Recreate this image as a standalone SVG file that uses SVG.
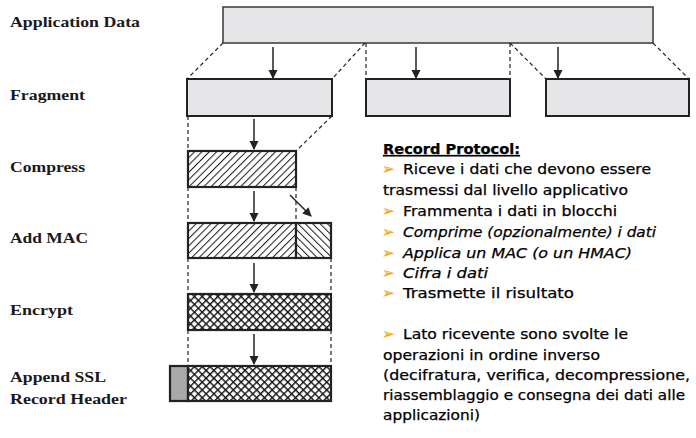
<svg xmlns="http://www.w3.org/2000/svg" width="696" height="438" viewBox="0 0 696 438">
<style>
.lbl{font-family:"Liberation Serif","Times New Roman",serif;font-weight:bold;font-size:15.5px;fill:#1a1a1a}
.txt{font-family:"DejaVu Sans","Noto Sans",sans-serif;font-size:14px;fill:#000;stroke:#000;stroke-width:0.25}
.it{font-style:italic}
.bul{fill:#F2A50C;stroke:#F2A50C;font-size:15px}
.gray{fill:#E6E6E8;stroke:#222;stroke-width:2}
.app{fill:#E6E6E8;stroke:#444;stroke-width:1.6}
.dash{stroke:#222;stroke-width:1.2;stroke-dasharray:4 3;fill:none}
.arr{stroke:#222;stroke-width:1.5;fill:none;marker-end:url(#ah)}
.box{stroke:#222;stroke-width:2.2}
</style>
<defs>
<marker id="ah" markerWidth="9" markerHeight="10" refX="8" refY="4.5" orient="auto" markerUnits="userSpaceOnUse">
<path d="M0,0 L9,4.5 L0,9 z" fill="#222"/>
</marker>
<pattern id="fwd" width="5.2" height="5.2" patternUnits="userSpaceOnUse" patternTransform="rotate(45)">
<rect width="5.2" height="5.2" fill="#fff"/>
<line x1="0" y1="0" x2="0" y2="5.2" stroke="#1a1a1a" stroke-width="2"/>
</pattern>
<pattern id="bwd" width="5.2" height="5.2" patternUnits="userSpaceOnUse" patternTransform="rotate(-45)">
<rect width="5.2" height="5.2" fill="#fff"/>
<line x1="0" y1="0" x2="0" y2="5.2" stroke="#1a1a1a" stroke-width="2"/>
</pattern>
<pattern id="cross" width="5.5" height="5.5" patternUnits="userSpaceOnUse" patternTransform="rotate(45)">
<rect width="5.5" height="5.5" fill="#fff"/>
<line x1="0" y1="0" x2="0" y2="5.5" stroke="#111" stroke-width="2.8"/>
<line x1="0" y1="0" x2="5.5" y2="0" stroke="#111" stroke-width="2.8"/>
</pattern>
</defs>
<rect width="696" height="438" fill="#fff"/>

<g id="labels">
<text class="lbl" x="10" y="27" textLength="130" lengthAdjust="spacingAndGlyphs">Application Data</text>
<text class="lbl" x="10" y="100" textLength="75" lengthAdjust="spacingAndGlyphs">Fragment</text>
<text class="lbl" x="10" y="172" textLength="75" lengthAdjust="spacingAndGlyphs">Compress</text>
<text class="lbl" x="10" y="243" textLength="78" lengthAdjust="spacingAndGlyphs">Add MAC</text>
<text class="lbl" x="10" y="315" textLength="63" lengthAdjust="spacingAndGlyphs">Encrypt</text>
<text class="lbl" x="10" y="382" textLength="96" lengthAdjust="spacingAndGlyphs">Append SSL</text>
<text class="lbl" x="10" y="404" textLength="117" lengthAdjust="spacingAndGlyphs">Record Header</text>
</g>

<g id="app-data"><rect class="app" x="223" y="7" width="430" height="36"/></g>
<g id="fragment-1"><rect class="gray" x="187" y="79" width="145" height="37"/></g>
<g id="fragment-2"><rect class="gray" x="366" y="79" width="144" height="37"/></g>
<g id="fragment-3"><rect class="gray" x="546" y="79" width="143" height="37"/></g>
<g id="compress"><rect class="box" x="188" y="151" width="108" height="36" fill="url(#fwd)"/></g>
<g id="add-mac">
<rect class="box" x="188" y="223" width="108" height="35" fill="url(#fwd)"/>
<rect class="box" x="296" y="223" width="35" height="35" fill="url(#bwd)"/>
</g>
<g id="encrypt"><rect class="box" x="188" y="294" width="143" height="36" fill="url(#cross)"/></g>
<g id="append-header">
<rect class="box" x="170" y="366" width="18" height="35" fill="#A8A8AA"/>
<rect class="box" x="188" y="366" width="143" height="35" fill="url(#cross)"/>
</g>

<g id="connectors">
<line class="dash" x1="223" y1="43" x2="187" y2="79"/>
<line class="dash" x1="365" y1="43" x2="332" y2="79"/>
<line class="dash" x1="366" y1="43" x2="366" y2="79"/>
<line class="dash" x1="510" y1="43" x2="510" y2="79"/>
<line class="dash" x1="510" y1="43" x2="546" y2="79"/>
<line class="dash" x1="653" y1="43" x2="689" y2="79"/>
<line class="dash" x1="188" y1="116" x2="188" y2="151"/>
<line class="dash" x1="332" y1="116" x2="296" y2="151"/>
<line class="dash" x1="188" y1="187" x2="188" y2="223"/>
<line class="dash" x1="296" y1="187" x2="296" y2="223"/>
<line class="dash" x1="188" y1="258" x2="188" y2="294"/>
<line class="dash" x1="331" y1="258" x2="331" y2="294"/>
<line class="dash" x1="188" y1="330" x2="188" y2="366"/>
<line class="dash" x1="331" y1="330" x2="331" y2="366"/>
<line class="arr" x1="273" y1="47" x2="273" y2="78"/>
<line class="arr" x1="416" y1="47" x2="416" y2="78"/>
<line class="arr" x1="558" y1="47" x2="558" y2="78"/>
<line class="arr" x1="254" y1="119" x2="254" y2="149"/>
<line class="arr" x1="254" y1="191" x2="254" y2="221"/>
<line class="arr" x1="254" y1="263" x2="254" y2="292"/>
<line class="arr" x1="254" y1="334" x2="254" y2="364"/>
<line class="arr" x1="290" y1="195" x2="311" y2="216"/>
</g>

<g id="description">
<text class="txt" x="383" y="154" font-weight="bold" text-decoration="underline" textLength="137" lengthAdjust="spacingAndGlyphs">Record Protocol:</text>
<text class="txt bul" x="382" y="174">➢</text>
<text class="txt" x="403" y="174" textLength="248" lengthAdjust="spacingAndGlyphs">Riceve i dati che devono essere</text>
<text class="txt" x="383" y="195" textLength="245" lengthAdjust="spacingAndGlyphs">trasmessi dal livello applicativo</text>
<text class="txt bul" x="382" y="216">➢</text>
<text class="txt" x="403" y="216" textLength="214" lengthAdjust="spacingAndGlyphs">Frammenta i dati in blocchi</text>
<text class="txt bul" x="382" y="237">➢</text>
<text class="txt it" x="403" y="237" textLength="253" lengthAdjust="spacingAndGlyphs">Comprime (opzionalmente) i dati</text>
<text class="txt bul" x="382" y="258">➢</text>
<text class="txt it" x="403" y="258" textLength="229" lengthAdjust="spacingAndGlyphs">Applica un MAC (o un HMAC)</text>
<text class="txt bul" x="382" y="278">➢</text>
<text class="txt it" x="403" y="278" textLength="85" lengthAdjust="spacingAndGlyphs">Cifra i dati</text>
<text class="txt bul" x="382" y="298">➢</text>
<text class="txt" x="403" y="298" textLength="171" lengthAdjust="spacingAndGlyphs">Trasmette il risultato</text>
<text class="txt bul" x="382" y="339">➢</text>
<text class="txt" x="403" y="339" textLength="225" lengthAdjust="spacingAndGlyphs">Lato ricevente sono svolte le</text>
<text class="txt" x="383" y="360" textLength="217" lengthAdjust="spacingAndGlyphs">operazioni in ordine inverso</text>
<text class="txt" x="383" y="380" textLength="307" lengthAdjust="spacingAndGlyphs">(decifratura, verifica, decompressione,</text>
<text class="txt" x="383" y="400" textLength="302" lengthAdjust="spacingAndGlyphs">riassemblaggio e consegna dei dati alle</text>
<text class="txt" x="383" y="420" textLength="97" lengthAdjust="spacingAndGlyphs">applicazioni)</text>
</g>
</svg>
